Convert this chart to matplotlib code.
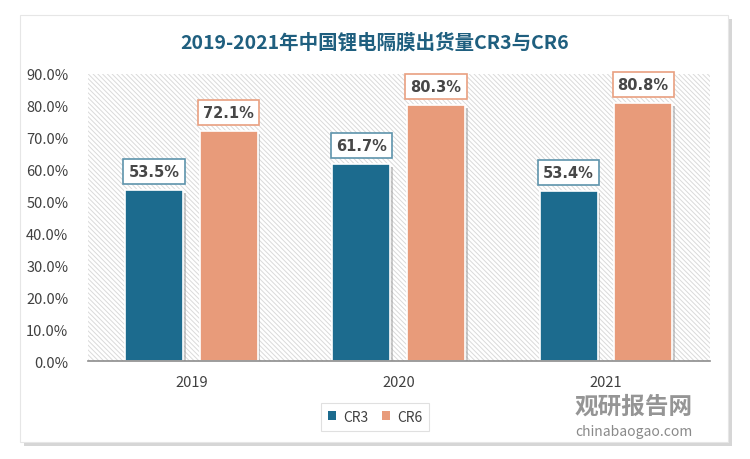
import matplotlib.pyplot as plt
import matplotlib.patheffects as pe
from matplotlib.patches import Rectangle, Patch
import numpy as np

plt.rcParams['font.family'] = ['Noto Sans CJK SC', 'DejaVu Sans']

years = ['2019', '2020', '2021']
cr3 = [53.5, 61.7, 53.4]
cr6 = [72.1, 80.3, 80.8]
yticks = [0, 10, 20, 30, 40, 50, 60, 70, 80, 90]

c3 = '#1c6b8e'
c6 = '#e89b7a'

fig = plt.figure(figsize=(7.5, 4.6), dpi=100)

# card background with shadow
bg = fig.add_axes([0, 0, 1, 1], zorder=-1)
bg.axis('off')
bg.set_xlim(0, 1)
bg.set_ylim(0, 1)
bg.add_patch(Rectangle((0.027, 0.037), 0.944, 0.928, facecolor='white', edgecolor='#e6e6e6', lw=0.8,
                       path_effects=[pe.SimplePatchShadow(offset=(3, -3), shadow_rgbFace='#bbbbbb', alpha=0.6),
                                     pe.Normal()]))

ax = fig.add_axes([0.117, 0.213, 0.829, 0.624])
ax.patch.set_alpha(0)
ax.set_xlim(-0.5, 2.5)
ax.set_ylim(0, 90)

# hatched plot area
plt.rcParams['hatch.color'] = '#dadada'
plt.rcParams['hatch.linewidth'] = 0.7
ax.add_patch(Rectangle((-0.5, 0), 3, 90, facecolor='white', edgecolor='#dadada',
                       hatch='\\\\\\\\\\\\\\', lw=0, zorder=0))

x = np.arange(len(years))
w = 0.28
off = 0.18
shadow = [pe.SimplePatchShadow(offset=(2, -2), shadow_rgbFace='#999999', alpha=0.5), pe.Normal()]
b3 = ax.bar(x - off, cr3, w, color=c3, edgecolor='white', lw=1.2, zorder=2, path_effects=shadow)
b6 = ax.bar(x + off, cr6, w, color=c6, edgecolor='white', lw=1.2, zorder=2, path_effects=shadow)

for bars, vals, col in [(b3, cr3, '#5d93ab'), (b6, cr6, '#e9a080')]:
    for b, v in zip(bars, vals):
        ax.text(b.get_x() + b.get_width() / 2, v + 5.8, f'{v:.1f}%', ha='center', va='center',
                fontsize=10.5, fontweight='bold', color='#474747', zorder=4,
                bbox=dict(boxstyle='square,pad=0.35', facecolor='white', edgecolor=col, lw=1.2),
                family=['DejaVu Sans'])

for s in ['top', 'right', 'left']:
    ax.spines[s].set_visible(False)
ax.spines['bottom'].set_color('#8c8c8c')
ax.spines['bottom'].set_linewidth(1.2)
ax.spines['bottom'].set_zorder(3)
ax.set_yticks(yticks)
ax.set_yticklabels([f'{t:.1f}%' for t in yticks], fontsize=10.5, color='#404040')
ax.set_xticks(x)
ax.set_xticklabels(years, fontsize=10.5, color='#404040')
ax.tick_params(length=0, pad=10)
ax.tick_params(axis='y', pad=14)

fig.text(0.5, 0.908, '2019-2021年中国锂电隔膜出货量CR3与CR6', ha='center', va='center',
         fontsize=14, color='#1f5f7f', fontweight='bold')

handles = [Patch(facecolor=c3, label='CR3'), Patch(facecolor=c6, label='CR6')]
leg = fig.legend(handles=handles, loc='center', bbox_to_anchor=(0.5, 0.092), ncol=2, frameon=True,
                 fontsize=10, handlelength=0.6, handleheight=0.6, columnspacing=1.0, handletextpad=0.5,
                 fancybox=False, edgecolor='#d9d9d9', borderpad=0.5)
leg.get_frame().set_linewidth(0.8)
for t in leg.get_texts():
    t.set_color('#404040')

# watermark
fig.text(0.845, 0.117, '观研报告网', ha='center', va='center', fontsize=17, color='#8a8a8a',
         fontweight='bold', alpha=0.9)
fig.text(0.845, 0.06, 'chinabaogao.com', ha='center', va='center', fontsize=10, color='#8a8a8a')

fig.savefig('out.png', dpi=100)
